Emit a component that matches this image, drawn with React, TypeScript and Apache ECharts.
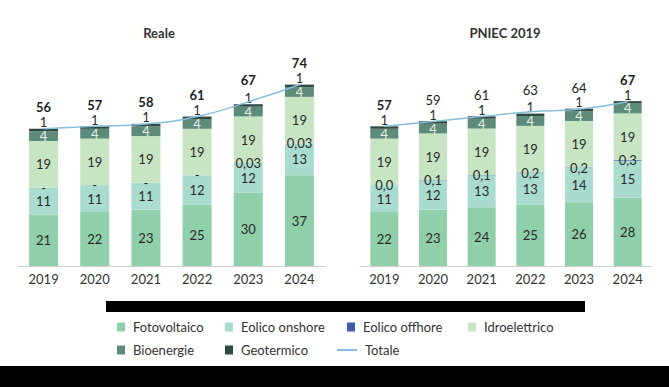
import React, { useEffect, useRef } from "react";
import * as echarts from "echarts";

const years = ["2019", "2020", "2021", "2022", "2023", "2024"];

const realeFoto = [21, 22, 23, 25, 30, 37];
const realeOnshore = [11, 11, 11, 12, 12, 13];
const realeOffshore = [0, 0, 0, 0, 0.03, 0.03];
const realeOffshoreLabels = ["-", "-", "-", "-", "0,03", "0,03"];
const realeIdro = [19, 19, 19, 19, 19, 19];
const realeBio = [4, 4, 4, 4, 4, 4];
const realeGeo = [1, 1, 1, 1, 1, 1];
const realeTotale = [56, 57, 58, 61, 67, 74];

const pniecFoto = [22, 23, 24, 25, 26, 28];
const pniecOnshore = [11, 12, 13, 13, 14, 15];
const pniecOffshore = [0, 0.1, 0.1, 0.2, 0.2, 0.3];
const pniecOffshoreLabels = ["0,0", "0,1", "0,1", "0,2", "0,2", "0,3"];
const pniecIdro = [19, 19, 19, 19, 19, 19];
const pniecBio = [4, 4, 4, 4, 4, 4];
const pniecGeo = [1, 1, 1, 1, 1, 1];
const pniecTotale = [57, 59, 61, 63, 64, 67];

const panelTitles = ["Reale", "PNIEC 2019"];
const names = ["Fotovoltaico", "Eolico onshore", "Eolico offhore", "Idroelettrico", "Bioenergie", "Geotermico", "Totale"];

const COLORS = {
  foto: "#8fcfa9",
  onshore: "#a9dccf",
  offshore: "#3a5cae",
  idro: "#c8e5c3",
  bio: "#5d8b79",
  geo: "#2f4a40",
  line: "#87bedb",
};

const FONT = "Lato, 'Open Sans', sans-serif";
const LABEL_COLOR = "#2a2a2a";

function panelSeries(
  idx: number,
  foto: number[],
  onshore: number[],
  offshore: number[],
  offLabels: string[],
  idro: number[],
  bio: number[],
  geo: number[],
  totals: number[],
  barWidth: number,
  boldTotals: boolean[]
) {
  const stack = "s" + idx;
  const base = {
    type: "bar",
    stack,
    xAxisIndex: idx,
    yAxisIndex: idx,
    barWidth,
  };
  const lbl = (color: string) => ({
    show: true,
    position: "inside",
    color,
    fontSize: 13,
    lineHeight: 11,
    fontFamily: FONT,
  });
  return [
    { ...base, name: names[0], data: foto, itemStyle: { color: COLORS.foto }, label: lbl(LABEL_COLOR) },
    { ...base, name: names[1], data: onshore, itemStyle: { color: COLORS.onshore }, label: lbl(LABEL_COLOR) },
    {
      ...base,
      name: names[2],
      data: offshore,
      itemStyle: { color: COLORS.offshore },
      label: { ...lbl(LABEL_COLOR), formatter: (p: any) => offLabels[p.dataIndex] },
    },
    { ...base, name: names[3], data: idro, itemStyle: { color: COLORS.idro }, label: lbl(LABEL_COLOR) },
    { ...base, name: names[4], data: bio, itemStyle: { color: COLORS.bio }, label: lbl("#e8f0eb") },
    {
      ...base,
      name: names[5],
      data: geo,
      itemStyle: { color: COLORS.geo },
      label: { ...lbl(LABEL_COLOR), position: "top", distance: 1 },
    },
    {
      type: "line",
      name: names[6],
      xAxisIndex: idx,
      yAxisIndex: idx,
      data: totals.map((v, i) => ({
        value: v,
        label: { fontWeight: boldTotals[i] ? "bold" : "normal" },
      })),
      smooth: true,
      symbol: "circle",
      symbolSize: 1,
      showSymbol: true,
      z: 5,
      itemStyle: { color: COLORS.line },
      lineStyle: { color: COLORS.line, width: 1.5 },
      label: {
        show: true,
        position: "top",
        distance: 15,
        color: "#1e1e1e",
        fontSize: 13,
        lineHeight: 12,
        fontFamily: FONT,
        fontWeight: "bold",
      },
    },
  ];
}

export default function App() {
  const ref = useRef<HTMLDivElement>(null);
  useEffect(() => {
    if (!ref.current) return;
    const chart = echarts.init(ref.current, null, { renderer: "svg" });

    const legendPos = [
      { name: names[0], left: 117, top: 320 },
      { name: names[1], left: 225, top: 320 },
      { name: names[2], left: 347, top: 320 },
      { name: names[3], left: 468, top: 320 },
      { name: names[4], left: 117, top: 343 },
      { name: names[5], left: 225, top: 343 },
      { name: names[6], left: 337, top: 343 },
    ];

    const legends = legendPos.map((l) => ({
      data: [l.name],
      left: l.left,
      top: l.top,
      padding: 0,
      icon: "rect",
      itemWidth: l.name === "Totale" ? 20 : 8,
      itemHeight: l.name === "Totale" ? 2 : 9,
      textStyle: {
        color: "#333",
        fontSize: 13,
        fontFamily: FONT,
        lineHeight: 14,
        padding: [0, 0, 0, 3],
      },
    }));

    const axisCommon = {
      type: "category",
      data: years,
      axisLine: { show: true, lineStyle: { color: "#cfcfcf", width: 1 } },
      axisTick: { show: false },
      axisLabel: { color: "#333", fontSize: 13, fontFamily: FONT, margin: 6 },
    };
    const yCommon = { type: "value", min: 0, max: 80, show: false, splitLine: { show: false } };

    chart.setOption({
      animation: false,
      backgroundColor: "#ffffff",
      legend: legends,
      grid: [
        { left: 18, width: 307, top: 70, height: 196 },
        { left: 360, width: 292, top: 70, height: 196 },
      ],
      xAxis: [
        { ...axisCommon, gridIndex: 0 },
        { ...axisCommon, gridIndex: 1 },
      ],
      yAxis: [
        { ...yCommon, gridIndex: 0 },
        { ...yCommon, gridIndex: 1 },
      ],
      series: [
        ...panelSeries(0, realeFoto, realeOnshore, realeOffshore, realeOffshoreLabels, realeIdro, realeBio, realeGeo, realeTotale, 29, [true, true, true, true, true, true]),
        ...panelSeries(1, pniecFoto, pniecOnshore, pniecOffshore, pniecOffshoreLabels, pniecIdro, pniecBio, pniecGeo, pniecTotale, 28, [true, false, false, false, false, true]),
      ],
      graphic: [
        {
          type: "text",
          x: 159,
          y: 33,
          style: { text: panelTitles[0], fontSize: 13, fontWeight: "bold", fontFamily: FONT, fill: "#333", align: "center", verticalAlign: "middle" },
        },
        {
          type: "text",
          x: 505,
          y: 33,
          style: { text: panelTitles[1], fontSize: 13, fontWeight: "bold", fontFamily: FONT, fill: "#333", align: "center", verticalAlign: "middle" },
        },
        { type: "rect", shape: { x: 106, y: 301, width: 479, height: 11 }, style: { fill: "#000" } },
        { type: "rect", shape: { x: 0, y: 366, width: 669, height: 21 }, style: { fill: "#000" } },
      ],
    });
    return () => chart.dispose();
  }, []);
  return (
    <div
      ref={ref}
      style={{ position: "fixed", left: 0, top: 0, width: 669, height: 387, background: "#fff" }}
    />
  );
}
